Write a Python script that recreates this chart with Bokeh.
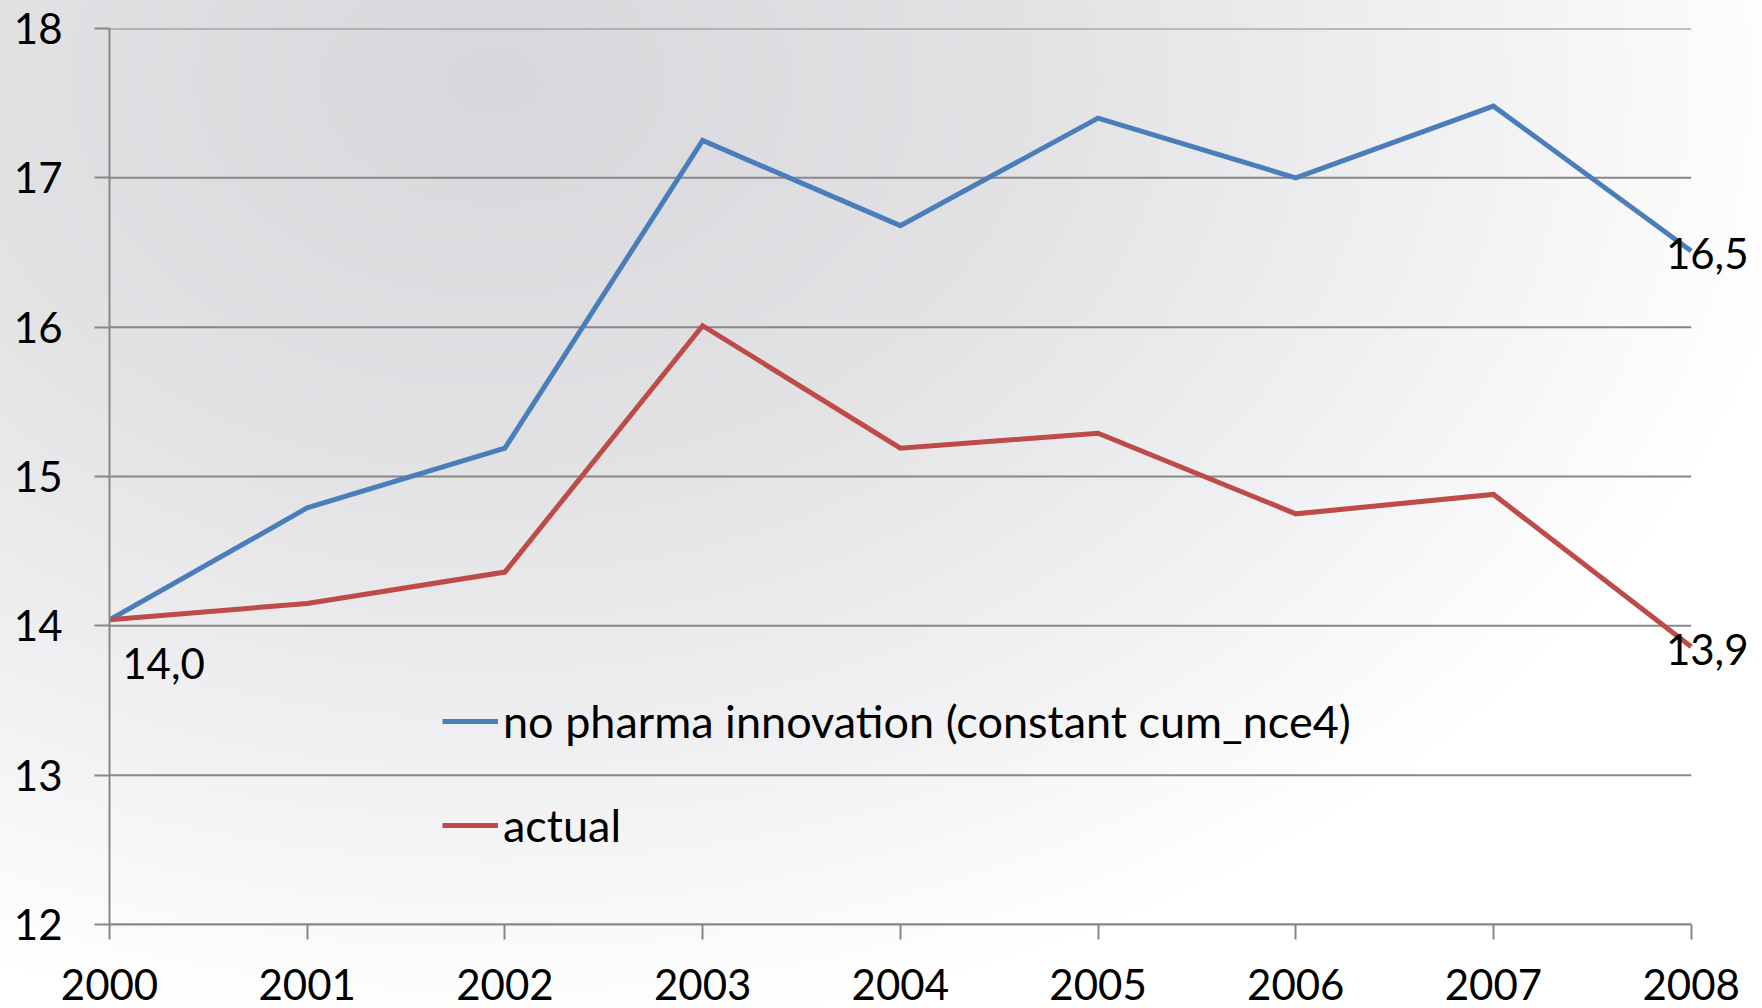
from bokeh.plotting import figure
from bokeh.models import Range1d, Legend, LegendItem, FixedTicker, ColumnDataSource
from bokeh.core.properties import value
from bokeh.embed import file_html
from bokeh.resources import INLINE

years = [2000, 2001, 2002, 2003, 2004, 2005, 2006, 2007, 2008]
no_pharma = [14.04, 14.79, 15.19, 17.25, 16.68, 17.40, 17.00, 17.48, 16.51]
actual = [14.04, 14.15, 14.36, 16.01, 15.19, 15.29, 14.75, 14.88, 13.86]
y_ticks = [12, 13, 14, 15, 16, 17, 18]
series_names = ["no pharma innovation (constant cum_nce4)", "actual"]

FONT = "Lato"
FS = "42px"
BLUE = "#4a7ebb"
RED = "#be4b48"
GRID = "#878787"

# a little room right of 2008 for the end-point labels
x_pad = 0.3
p = figure(width=1762, height=1008, output_backend="svg", toolbar_location=None,
           x_range=Range1d(years[0], years[-1] + x_pad), y_range=Range1d(y_ticks[0], y_ticks[-1]),
           min_border_left=109, min_border_top=28, min_border_right=12, min_border_bottom=84)
p.background_fill_alpha = 0
p.border_fill_alpha = 0
p.outline_line_alpha = 0
p.styles = {"background": "radial-gradient(ellipse 75% 95% at 28% 8%, #d8d8dc 0%, #e2e2e5 40%, #f2f2f4 75%, #ffffff 100%)"}

# horizontal gridlines spanning only the category extent
n = len(y_ticks)
p.segment(x0=[years[0]] * n, x1=[years[-1]] * n, y0=y_ticks, y1=y_ticks,
          line_color=GRID, line_width=2)

r1 = p.line(years, no_pharma, line_color=BLUE, line_width=5, line_join="miter")
r2 = p.line(years, actual, line_color=RED, line_width=5, line_join="miter")

def fmt(v):
    return f"{v:.1f}".replace(".", ",")

lab_src = ColumnDataSource(dict(
    x=[years[0], years[-1], years[-1]],
    y=[actual[0], no_pharma[-1], actual[-1]],
    t=[fmt(actual[0]), fmt(no_pharma[-1]), fmt(actual[-1])],
    xo=[54, 16, 16], yo=[44, 2, 3],
))
p.text(x="x", y="y", text="t", x_offset="xo", y_offset="yo", source=lab_src,
       text_font=value(FONT), text_font_size=FS, text_align="center",
       text_baseline="middle", text_color="black")

# axes
p.xaxis.ticker = FixedTicker(ticks=years)
p.yaxis.ticker = FixedTicker(ticks=y_ticks)
p.xaxis.bounds = (years[0], years[-1])
for ax in (p.xaxis, p.yaxis):
    ax.axis_line_color = GRID
    ax.axis_line_width = 2
    ax.major_tick_line_color = GRID
    ax.major_tick_line_width = 2
    ax.major_tick_out = 15
    ax.major_tick_in = 0
    ax.minor_tick_line_color = None
    ax.major_label_text_font = FONT
    ax.major_label_text_font_size = FS
    ax.major_label_text_color = "black"
p.xaxis.major_label_standoff = 29
p.yaxis.major_label_standoff = 32

p.xgrid.grid_line_color = None
p.ygrid.grid_line_color = None

legend = Legend(items=[LegendItem(label=series_names[0], renderers=[r1]),
                       LegendItem(label=series_names[1], renderers=[r2])],
                location=(333, 72), padding=0, margin=0, spacing=50,
                glyph_width=56, glyph_height=50, label_height=50, label_standoff=5,
                label_text_font=FONT, label_text_font_size="45px", label_text_color="black",
                border_line_alpha=0, background_fill_alpha=0)
p.add_layout(legend)

open("out.html", "w").write(file_html(p, INLINE))
